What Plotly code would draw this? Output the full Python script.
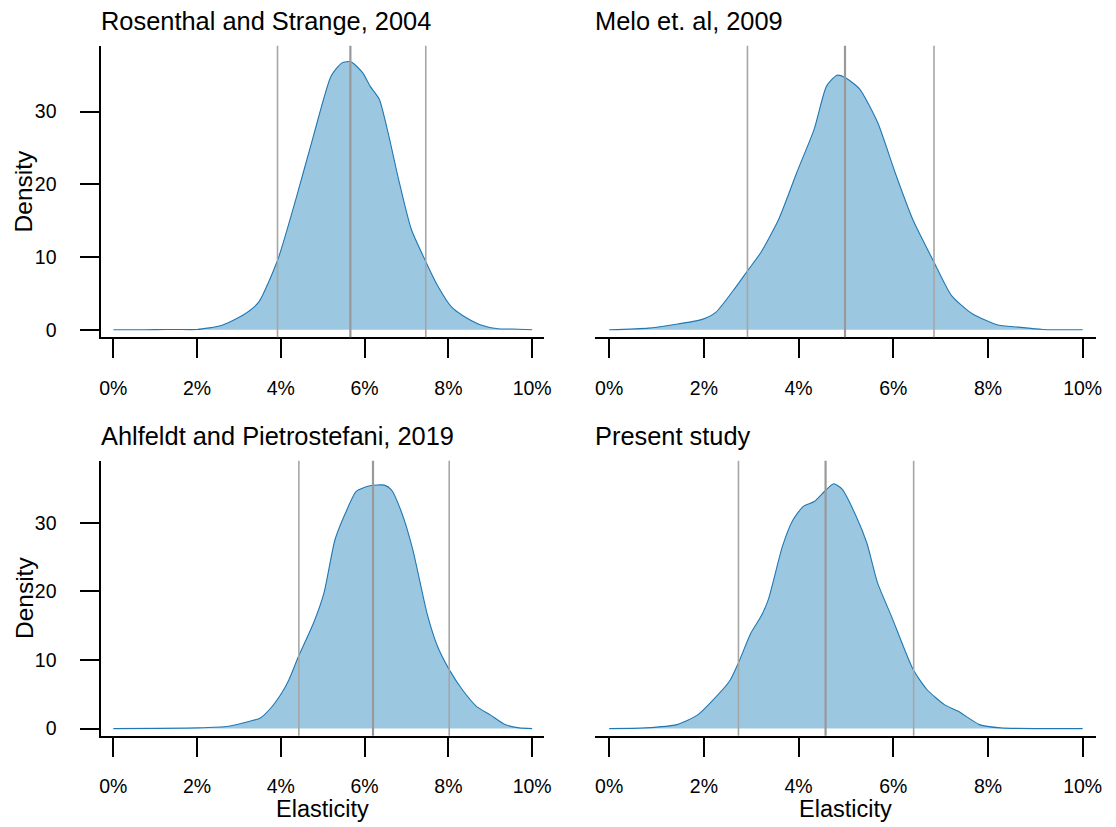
import plotly.graph_objects as go
from plotly.subplots import make_subplots

titles = ['Rosenthal and Strange, 2004', 'Melo et. al, 2009',
          'Ahlfeldt and Pietrostefani, 2019', 'Present study']

# density curves (elasticity as share, density)
rs_x = [0.0, 0.005, 0.010, 0.015, 0.020, 0.0258, 0.0309, 0.0347, 0.0393, 0.0436, 0.0478, 0.0520,
        0.0546, 0.0567, 0.0596, 0.0613, 0.0635, 0.0656, 0.0681, 0.0711, 0.0745, 0.0774, 0.0808,
        0.0833, 0.0876, 0.0918, 0.0952, 0.100]
rs_y = [0.0, 0.0, 0.02, 0.05, 0.05, 0.6, 2.0, 3.8, 9.7, 18.0, 26.7, 34.9,
        36.7, 36.85, 35.3, 33.5, 31.7, 27.1, 20.7, 13.9, 9.5, 6.1, 3.1,
        2.0, 0.7, 0.14, 0.1, 0.0]

melo_x = [0.0, 0.0083, 0.0135, 0.0195, 0.0225, 0.0262, 0.0292, 0.0321, 0.0358, 0.0396, 0.0433,
          0.0459, 0.0481, 0.0498, 0.0529, 0.0567, 0.0604, 0.0641, 0.0686, 0.0723, 0.0767,
          0.0819, 0.0864, 0.0916, 0.100]
melo_y = [0.0, 0.23, 0.7, 1.4, 2.4, 5.4, 8.1, 10.7, 15.2, 21.6, 27.6,
          33.5, 35.0, 34.7, 33.1, 28.5, 21.6, 15.2, 9.3, 4.7, 2.2,
          0.7, 0.37, 0.05, 0.0]

ap_x = [0.0, 0.020, 0.0275, 0.0326, 0.0351, 0.0376, 0.0402, 0.0419, 0.0442, 0.0478, 0.0503,
        0.0529, 0.0554, 0.0580, 0.0613, 0.0647, 0.0664, 0.0689, 0.0715, 0.0749, 0.0774,
        0.0802, 0.0833, 0.0867, 0.0900, 0.0935, 0.0969, 0.100]
ap_y = [0.0, 0.1, 0.34, 1.07, 1.55, 3.0, 5.2, 7.1, 10.5, 15.4, 19.8,
        27.5, 31.4, 34.6, 35.4, 35.5, 34.8, 31.4, 26.1, 16.8, 12.0,
        8.6, 5.7, 3.25, 2.0, 0.58, 0.1, 0.0]

ps_x = [0.0, 0.0076, 0.0143, 0.0187, 0.0217, 0.0254, 0.0273, 0.0299, 0.0321, 0.0336, 0.0366,
        0.0388, 0.0410, 0.0433, 0.0455, 0.0474, 0.0492, 0.0522, 0.0544, 0.0567, 0.0596,
        0.0642, 0.0671, 0.0708, 0.0738, 0.0782, 0.0827, 0.100]
ps_y = [0.0, 0.1, 0.58, 2.0, 4.0, 6.9, 9.6, 13.9, 16.4, 18.8, 26.6,
        30.4, 32.4, 33.1, 34.6, 35.7, 34.9, 30.9, 27.1, 21.2, 16.4,
        8.6, 5.7, 3.5, 2.5, 0.58, 0.1, 0.0]

# lower bound, central value, upper bound (grey lines)
rs_lines = [0.0392, 0.0566, 0.0746]
melo_lines = [0.0292, 0.0498, 0.0686]
ap_lines = [0.0443, 0.0620, 0.0802]
ps_lines = [0.0273, 0.0457, 0.0643]

xs = [rs_x, melo_x, ap_x, ps_x]
ys = [rs_y, melo_y, ap_y, ps_y]
vlines = [rs_lines, melo_lines, ap_lines, ps_lines]
x_ticks = [0, 0.02, 0.04, 0.06, 0.08, 0.10]
y_ticks = [0, 10, 20, 30]

W, H = 1116, 827
font = 'Liberation Sans, Arial, sans-serif'


def px_x(p):
    return p / W


def px_y(p):
    return 1 - p / H


fig = make_subplots(rows=2, cols=2)

# panel boxes in screen pixels: left, right, top, bottom
boxes = [(100, 546.7, 46, 339), (598.3, 1103.3, 46, 339),
         (100, 546.7, 463, 739.3), (598.3, 1103.3, 463, 739.3)]

for i in range(4):
    r, c = i // 2 + 1, i % 2 + 1
    fig.add_trace(go.Scatter(x=xs[i], y=ys[i], mode='lines', fill='tozeroy',
                             fillcolor='#9cc7e1', line=dict(color='#1f78b4', width=1.1, shape='spline', smoothing=0.6),
                             hoverinfo='skip', showlegend=False), row=r, col=c)
    for j, v in enumerate(vlines[i]):
        fig.add_vline(x=v, line=dict(color='#999999' if j == 1 else '#a6a6a6', width=2.2 if j == 1 else 1.6),
                      row=r, col=c)

    left, right, top, bottom = boxes[i]
    n = '' if i == 0 else str(i + 1)
    fig.layout['xaxis' + n].update(domain=[px_x(left), px_x(right)], range=[-0.0029, 0.1029],
                                   tickvals=x_ticks, tickformat='.0%', ticks='outside', ticklen=19,
                                   tickwidth=1.6, tickcolor='black', showline=True, linewidth=1.6,
                                   linecolor='black', showgrid=False, zeroline=False,
                                   ticklabelstandoff=13, tickfont=dict(size=19.5, color='black'))
    ya = dict(domain=[px_y(bottom), px_y(top)], range=[-1.04, 39.05], showgrid=False, zeroline=False)
    if c == 1:
        ya.update(tickvals=y_ticks, ticks='outside', ticklen=19, tickwidth=1.6, tickcolor='black',
                  showline=True, linewidth=1.6, linecolor='black', ticklabelstandoff=20,
                  tickfont=dict(size=19.5, color='black'))
    else:
        ya.update(showticklabels=False, showline=False, ticks='')
    fig.layout['yaxis' + n].update(**ya)

    fig.add_annotation(text=titles[i], xref='paper', yref='paper', x=px_x(left - 2), y=px_y(top - 24.5),
                       xanchor='left', yanchor='middle', showarrow=False, font=dict(size=25.4, color='black'))

for top, bottom in [(46, 339), (463, 739.3)]:
    fig.add_annotation(text='Density', xref='paper', yref='paper', x=px_x(22), y=px_y((top + bottom) / 2),
                       textangle=-90, xanchor='center', yanchor='middle', showarrow=False,
                       font=dict(size=24.5, color='black'))

for left, right in [(100, 546.7), (598.3, 1103.3)]:
    fig.add_annotation(text='Elasticity', xref='paper', yref='paper', x=px_x((left + right) / 2), y=px_y(813),
                       xanchor='center', yanchor='middle', showarrow=False, font=dict(size=23.5, color='black'))

fig.update_layout(width=W, height=H, margin=dict(l=0, r=0, t=0, b=0),
                  paper_bgcolor='white', plot_bgcolor='white',
                  font=dict(family=font, color='black'), hovermode=False)

# drop the default 8px page margin so the figure fills the window exactly
fig.write_html('out.html', config={'displayModeBar': False},
               post_script="document.body.style.margin = '0';")
